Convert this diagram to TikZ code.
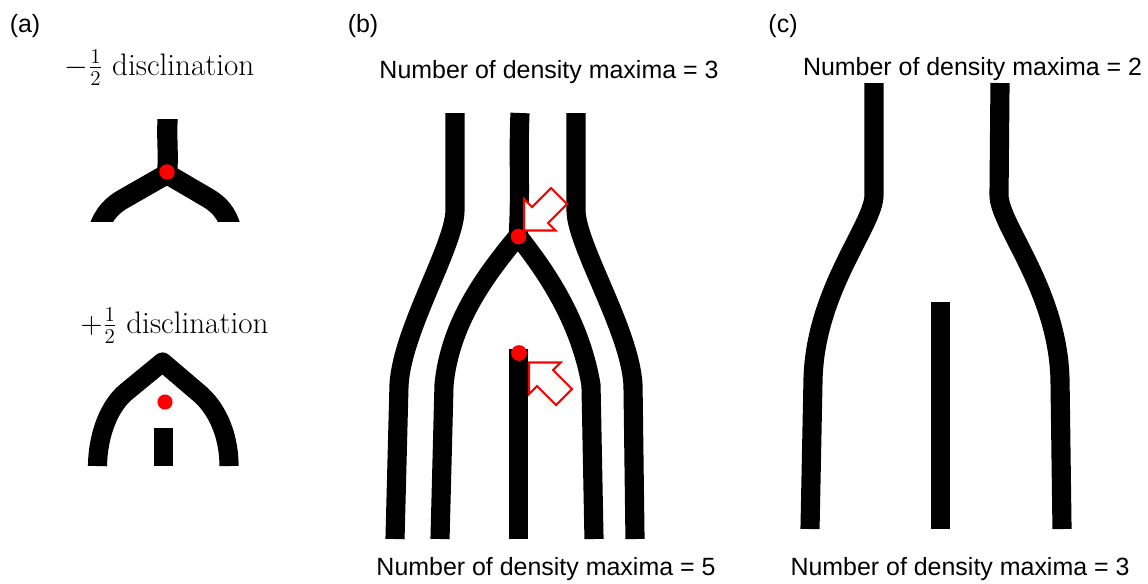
\documentclass[tikz,border=0pt]{standalone}
\usepackage{fontspec}
\setsansfont{Liberation Sans}
\usepackage{tikz}
\usetikzlibrary{positioning}
\usepackage{xcolor}
\definecolor{defred}{RGB}{255,0,0}

\begin{document}
\begin{tikzpicture}[x=0.02cm, y=-0.02cm,
  stripe/.style={line width=10.9pt, line cap=butt, line join=round},
  defect/.style={fill=defred},
  hollowarrow/.style={draw=defred, fill=white, line width=1.2pt, line join=miter},
  panel/.style={font=\fontsize{14.2}{17}\sffamily, anchor=base},
  count/.style={font=\fontsize{14.2}{17}\sffamily, anchor=base},
  disc/.style={font=\fontsize{17.7}{21}\selectfont, anchor=base}]
\useasboundingbox (0,0) rectangle (1148,583);

% panel labels
\node[panel] (la) at (25,32) {(a)};
\node[panel] (lb) at (363,32) {(b)};
\node[panel] (lc) at (783,32) {(c)};

% (a) -1/2 and +1/2
\node[disc] (dm) at (159.5,75) {$-\frac{1}{2}$ disclination};
\node[disc] (dp) at (174.5,333) {$+\frac{1}{2}$ disclination};
\begin{scope}
  \clip (60,119) rectangle (280,221);
  \draw[stripe, line width=11.5pt] (168,112) .. controls (166,140) and (169,150) .. (167,176);
  \draw[stripe, line width=11.5pt] (167,174) -- (125,198) .. controls (112,205) and (104,214) .. (99,228);
  \draw[stripe, line width=11.5pt] (167,174) -- (208,198) .. controls (220,205) and (227,214) .. (231,228);
\end{scope}
\fill[defect] (167,172) circle[radius=4.4pt];
\draw[stripe] (97.5,466) .. controls (98,432) and (110.6,404.8) .. (126,392) -- (162.5,362)
  -- (200,394) .. controls (215,407) and (229,432) .. (229,466);
\fill[defect] (165,402) circle[radius=4.3pt];
\fill (154,428) rectangle (173,466);

% (b)
\node[count] (tb) at (549,78) {Number of density maxima = 3};
\node[count] (bb) at (546,575) {Number of density maxima = 5};
\draw[stripe] (455,113) -- (455,210) .. controls (455,245) and (402,330) .. (399,385) -- (395,539);
\draw[stripe] (520,113) .. controls (518,160) and (521,190) .. (518,240);
\draw[stripe] (518,236) .. controls (490,270) and (450,320) .. (444,385) -- (440,539);
\draw[stripe] (518,236) .. controls (545,270) and (580,320) .. (591,385) -- (594,539);
\draw[stripe] (576,113) -- (576,210) .. controls (576,245) and (630,330) .. (633,385) -- (635,539);
\fill (509,349) rectangle (528,539);
\fill[defect] (518.5,236.5) circle[radius=4.4pt];
\fill[defect] (519,353) circle[radius=4.5pt];
\foreach \tx/\ty/\s in {524/230.5/1, 529/362.5/-1}{
  \begin{scope}[shift={(\tx,\ty)}, yscale=\s]
    \draw[hollowarrow] (0,0) -- (0,-31.5) -- (8,-23.5) -- (27,-42.5) -- (43,-26.5) -- (24,-7.5) -- (31.5,0) -- cycle;
  \end{scope}
}

% (c)
\node[count] (tc) at (972.5,75) {Number of density maxima = 2};
\node[count] (bc) at (960,575) {Number of density maxima = 3};
\draw[stripe] (874,83) -- (874,195) .. controls (874,225) and (815,290) .. (813,380) -- (810,529);
\draw[stripe] (1000,83) -- (999,195) .. controls (999,225) and (1058,290) .. (1060,380) -- (1062,529);
\fill (931,302) rectangle (950,529);
\end{tikzpicture}
\end{document}
